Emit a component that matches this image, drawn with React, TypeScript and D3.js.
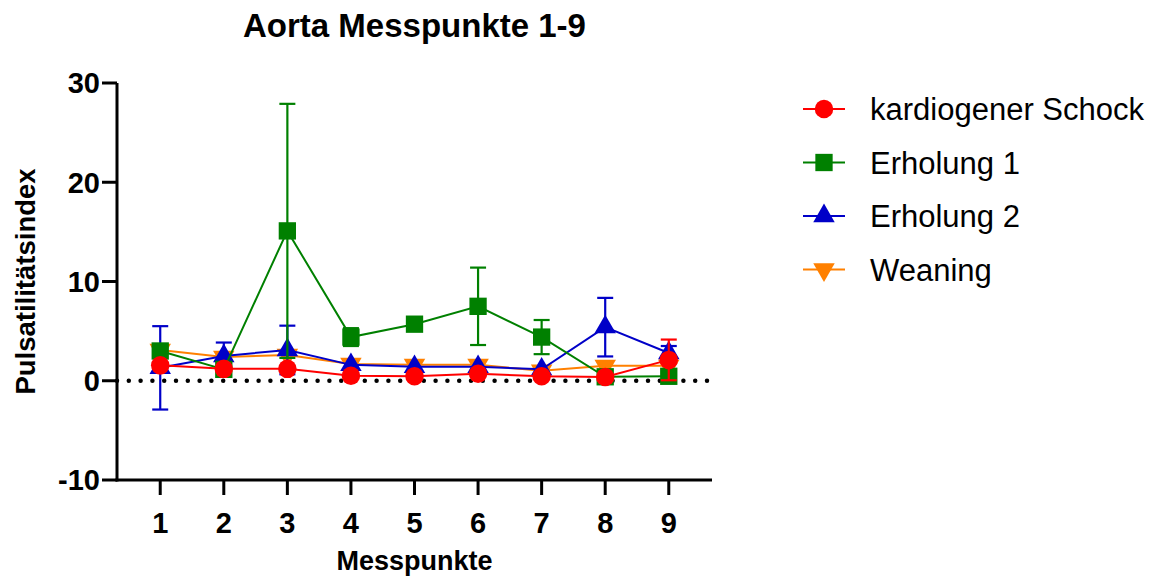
import { useEffect, useRef } from 'react'
import * as d3 from 'd3'

const W = 1170
const H = 580
const MARGIN = { top: 83, right: 458, bottom: 100, left: 117 }

const POINTS = [1, 2, 3, 4, 5, 6, 7, 8, 9]
const Y_TICKS = [-10, 0, 10, 20, 30]

const SERIES_NAMES = ['kardiogener Schock', 'Erholung 1', 'Erholung 2', 'Weaning']
const SERIES_COLORS = ['#FF0000', '#008000', '#0000C8', '#FF8000']

// means and SD per Messpunkt (0 = bar hidden behind the marker)
const schockMean = [1.55, 1.2, 1.2, 0.5, 0.45, 0.7, 0.45, 0.38, 2.1]
const schockErr = [0, 0, 0, 0, 0, 0, 0, 0, 2.05]
const erholung1Mean = [3.0, 1.15, 15.1, 4.4, 5.7, 7.5, 4.4, 0.4, 0.45]
const erholung1Err = [0, 0, 12.8, 0.9, 0, 3.9, 1.72, 0, 0]
const erholung2Mean = [1.3, 2.5, 3.1, 1.6, 1.4, 1.4, 1.15, 5.4, 2.8]
const erholung2Err = [4.2, 1.35, 2.45, 0, 0, 0, 0, 2.95, 0.7]
const weaningMean = [3.1, 2.4, 2.6, 1.7, 1.6, 1.6, 1.0, 1.5, 1.5]
const weaningErr = [0, 0, 0, 0, 0, 0, 0, 0, 0]

const MEANS = [schockMean, erholung1Mean, erholung2Mean, weaningMean]
const ERRS = [schockErr, erholung1Err, erholung2Err, weaningErr]
const SYMBOLS = [d3.symbolCircle, d3.symbolSquare, d3.symbolTriangle, d3.symbolTriangle]
const SIZES = [270, 300, 200, 200]
const ROTATE = [0, 0, 0, 180]

const FONT = '"Liberation Sans", Arial, sans-serif'

export default function App() {
  const svgRef = useRef<SVGSVGElement>(null)

  useEffect(() => {
    const svg = d3.select(svgRef.current)
    svg.selectAll('*').remove()

    const iW = W - MARGIN.left - MARGIN.right
    const iH = H - MARGIN.top - MARGIN.bottom
    const x = d3.scaleLinear().domain([0.32, 9.68]).range([0, iW])
    const y = d3.scaleLinear().domain([-10, 30]).range([iH, 0])

    const g = svg.append('g').attr('transform', `translate(${MARGIN.left},${MARGIN.top})`)

    // zero line, dotted
    g.append('line')
      .attr('x1', 0).attr('x2', iW)
      .attr('y1', y(0)).attr('y2', y(0))
      .attr('stroke', '#000').attr('stroke-width', 4.5)
      .attr('stroke-linecap', 'round').attr('stroke-dasharray', '0 11.8')

    // series, last one drawn first so red ends on top
    for (let s = MEANS.length - 1; s >= 0; s--) {
      const color = SERIES_COLORS[s]
      const data = POINTS.map((p, i) => ({ p, m: MEANS[s][i], e: ERRS[s][i] }))
      const sg = g.append('g')

      data.filter(d => d.e > 0).forEach(d => {
        sg.append('line')
          .attr('x1', x(d.p)).attr('x2', x(d.p))
          .attr('y1', y(d.m + d.e)).attr('y2', y(d.m - d.e))
          .attr('stroke', color).attr('stroke-width', 2.2)
        ;[d.m + d.e, d.m - d.e].forEach(v => {
          sg.append('line')
            .attr('x1', x(d.p) - 8).attr('x2', x(d.p) + 8)
            .attr('y1', y(v)).attr('y2', y(v))
            .attr('stroke', color).attr('stroke-width', 2.2)
        })
      })

      sg.append('path')
        .datum(data)
        .attr('fill', 'none').attr('stroke', color).attr('stroke-width', 2)
        .attr('d', d3.line<any>().x(d => x(d.p)).y(d => y(d.m)))

      const sym = d3.symbol().type(SYMBOLS[s]).size(SIZES[s])
      sg.selectAll('path.m').data(data).enter().append('path')
        .attr('class', 'm')
        .attr('d', sym)
        .attr('fill', color)
        .attr('transform', d => `translate(${x(d.p)},${y(d.m)}) rotate(${ROTATE[s]})`)
    }

    // axes
    g.append('line').attr('x1', 0).attr('x2', 0).attr('y1', 0).attr('y2', iH + 1.5)
      .attr('stroke', '#000').attr('stroke-width', 3)
    g.append('line').attr('x1', -1.5).attr('x2', iW).attr('y1', iH).attr('y2', iH)
      .attr('stroke', '#000').attr('stroke-width', 3)

    Y_TICKS.forEach(t => {
      g.append('line').attr('x1', -15).attr('x2', 0).attr('y1', y(t)).attr('y2', y(t))
        .attr('stroke', '#000').attr('stroke-width', 3)
      g.append('text').attr('x', -17).attr('y', y(t)).attr('dy', '0.36em')
        .attr('text-anchor', 'end').attr('font-family', FONT).attr('font-weight', 'bold')
        .attr('font-size', 29).text(t)
    })
    POINTS.forEach(t => {
      g.append('line').attr('x1', x(t)).attr('x2', x(t)).attr('y1', iH).attr('y2', iH + 15)
        .attr('stroke', '#000').attr('stroke-width', 3)
      g.append('text').attr('x', x(t)).attr('y', iH + 53)
        .attr('text-anchor', 'middle').attr('font-family', FONT).attr('font-weight', 'bold')
        .attr('font-size', 29).text(t)
    })

    // titles
    svg.append('text').attr('x', MARGIN.left + iW / 2).attr('y', 37)
      .attr('text-anchor', 'middle').attr('font-family', FONT).attr('font-weight', 'bold')
      .attr('font-size', 33).text('Aorta Messpunkte 1-9')
    svg.append('text').attr('x', MARGIN.left + iW / 2).attr('y', 570)
      .attr('text-anchor', 'middle').attr('font-family', FONT).attr('font-weight', 'bold')
      .attr('font-size', 27).text('Messpunkte')
    svg.append('text')
      .attr('transform', `translate(35,${MARGIN.top + iH / 2}) rotate(-90)`)
      .attr('text-anchor', 'middle').attr('font-family', FONT).attr('font-weight', 'bold')
      .attr('font-size', 27.5).text('Pulsatilitätsindex')

    // legend
    const lg = svg.append('g').attr('transform', 'translate(803,109)')
    SERIES_NAMES.forEach((name, s) => {
      const row = lg.append('g').attr('transform', `translate(0,${s * 53.5})`)
      row.append('line').attr('x1', 0).attr('x2', 42).attr('y1', 0).attr('y2', 0)
        .attr('stroke', SERIES_COLORS[s]).attr('stroke-width', 2)
      row.append('path')
        .attr('d', d3.symbol().type(SYMBOLS[s]).size(SIZES[s])())
        .attr('fill', SERIES_COLORS[s])
        .attr('transform', `translate(21,0) rotate(${ROTATE[s]})`)
      row.append('text').attr('x', 67).attr('dy', '0.36em')
        .attr('font-family', FONT).attr('font-size', 31).attr('fill', '#000').text(name)
    })
  }, [])

  return (
    <svg ref={svgRef} width={W} height={H}
      style={{ position: 'absolute', left: 0, top: 0, background: '#fff' }} />
  )
}
